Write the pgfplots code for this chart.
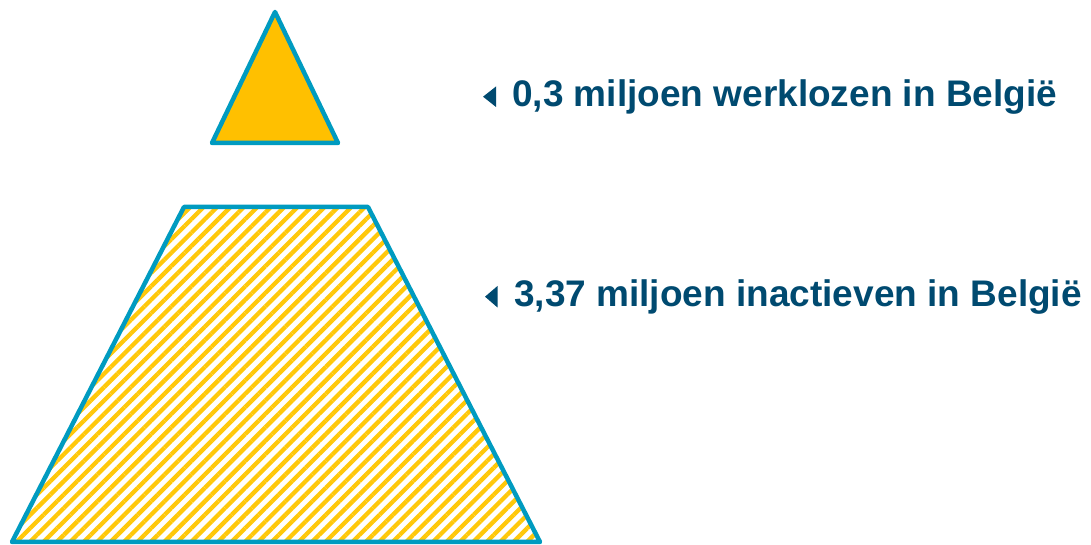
\documentclass[border=0pt]{standalone}
\usepackage{pgfplots}
\pgfplotsset{compat=1.18}
\usetikzlibrary{patterns.meta}
\usepackage{fontspec}
\setmainfont{Liberation Sans}
\definecolor{edge}{HTML}{009BC0}
\definecolor{gold}{HTML}{FFC000}
\definecolor{hatch}{HTML}{FFC80A}
\definecolor{txt}{HTML}{004A70}
\begin{document}
\begin{tikzpicture}
\begin{axis}[
  width=1091pt, height=545pt, scale only axis,
  xmin=0, xmax=1091, ymin=0, ymax=545,
  hide axis, clip=false, enlargelimits=false]
% trapezoid: 3,37 miljoen inactieven
\addplot[draw=edge, line width=4.5pt, line join=round,
  pattern={Lines[angle=45,distance=9.5pt,line width=4.3pt]}, pattern color=hatch]
  coordinates {(12,3) (540,3) (368,338) (184,338)} -- cycle;
% triangle: 0,3 miljoen werklozen
\addplot[draw=edge, fill=gold, line width=4.5pt, line join=round]
  coordinates {(212,402) (338,402) (275,533)} -- cycle;
% small arrow markers
\addplot[fill=txt, draw=none] coordinates {(483,448.3) (496,458.5) (496,438)} -- cycle;
\addplot[fill=txt, draw=none] coordinates {(485,248.3) (497.5,259) (497.5,237.5)} -- cycle;
\node[anchor=base west, text=txt, font=\fontsize{37}{43}\selectfont\bfseries, inner sep=0pt]
  at (axis cs:512,438.5) {0,3 miljoen werklozen in België};
\node[anchor=base west, text=txt, font=\fontsize{37}{43}\selectfont\bfseries, inner sep=0pt]
  at (axis cs:514,238) {3,37 miljoen inactieven in België};
\end{axis}
\pgfresetboundingbox
\path[use as bounding box] (current axis.south west) rectangle (current axis.north east);
\end{tikzpicture}
\end{document}
